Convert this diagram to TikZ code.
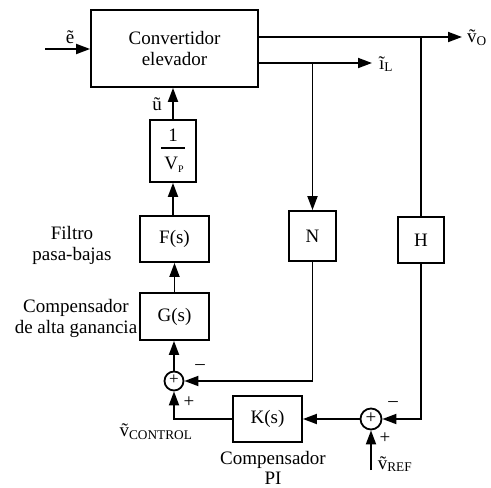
\documentclass[tikz,border=0pt]{standalone}
\usepackage{fontspec}
\setmainfont{Liberation Serif}
\usetikzlibrary{arrows.meta,positioning,calc}
\begin{document}
\begin{tikzpicture}[x=1pt,y=-1pt,
  font=\fontsize{19}{22}\selectfont,
  line width=1.8pt,
  blk/.style={draw,rectangle,inner sep=0pt,align=center},
  sumc/.style={draw,circle,inner sep=0pt},
  lbl/.style={inner sep=0pt,align=center},
  arr/.style={-{Triangle[length=14pt,width=10pt]}}]
\useasboundingbox (0,0) rectangle (491,488);
% blocks
\node[blk,minimum width=167pt,minimum height=77pt] (conv) at (174.5,48.5) {Convertidor\\[-1pt]elevador};
\node[blk,minimum width=46pt,minimum height=62pt] (vp) at (173,151) {};
\node[lbl] (one) at (173,135) {1};
\node[lbl] (vpl) at (174,165) {V\raisebox{-3pt}{\fontsize{10}{10}\selectfont P}};
\draw[line width=1.2pt] (161,148) -- (185,148);
\node[blk,minimum width=69pt,minimum height=46pt] (F) at (174.5,239) {F(s)};
\node[blk,minimum width=69pt,minimum height=47pt] (G) at (174.5,316.5) {G(s)};
\node[blk,minimum width=47pt,minimum height=50pt] (N) at (312.5,236) {N};
\node[blk,minimum width=46pt,minimum height=46pt] (H) at (421,240) {H};
\node[blk,minimum width=69pt,minimum height=46pt] (K) at (267.5,419) {K(s)};
\node[sumc,minimum size=19pt] (s1) at (174,381) {};
\node[lbl,font=\fontsize{17}{17}\selectfont] (s1p) at (174,380) {+};
\node[sumc,minimum size=21pt] (s2) at (371,419) {};
\node[lbl,font=\fontsize{19}{19}\selectfont] (s2p) at (371,418) {+};
% coordinates
\coordinate (ein) at (45,49);
\coordinate (vo) at (462,37);
\coordinate (il) at (372,63);
\coordinate (ntap) at (312.5,63);
\coordinate (htap) at (421,37);
\coordinate (vref) at (371,470);
% connectors
\draw[arr] (ein) -- (ein -| conv.west);
\draw[arr] (vp.north) -- (vp.north |- conv.south);
\draw[arr] (F.north -| vp.south) -- (vp.south);
\draw[arr] (G.north) -- (F.south);
\draw[arr] (s1.north) -- (G.south -| s1.north);
\draw[arr] (vo -| conv.east) -- (vo);
\draw[arr] (il -| conv.east) -- (il);
\draw[arr] (ntap) -- (N.north);
\draw[arr] (N.south) |- (s1.east);
\draw (htap) -- (H.north);
\draw[arr] (H.south) |- (s2.east);
\draw[arr] (s2.west) -- (K.east);
\draw[arr] (K.west) -| (s1.south);
\draw[arr] (vref) -- (s2.south);
% labels
\node[lbl] (le) at (70,37) {ẽ};
\node[lbl] (lu) at (157,104) {ũ};
\node[lbl] (lvo) at (477,38) {\~{v}\textsubscript{O}};
\node[lbl] (lil) at (386,64) {ĩ\textsubscript{L}};
\node[lbl] (lfil) at (72,245) {Filtro\\[-1pt]pasa-bajas};
\node[lbl] (lcomp) at (76,318) {Compensador\\[-1pt]de alta ganancia};
\node[lbl] (lm1) at (200,367) {–};
\node[lbl] (lp1) at (189,402) {+};
\node[lbl] (lvc) at (156,432) {\~{v}\textsubscript{CONTROL}};
\node[lbl] (lm2) at (393,404) {–};
\node[lbl] (lp2) at (385,438) {+};
\node[lbl] (lvr) at (395,464) {\~{v}\textsubscript{REF}};
\node[lbl] (lpi) at (273,468) {Compensador\\[-2pt]PI};
\end{tikzpicture}
\end{document}
